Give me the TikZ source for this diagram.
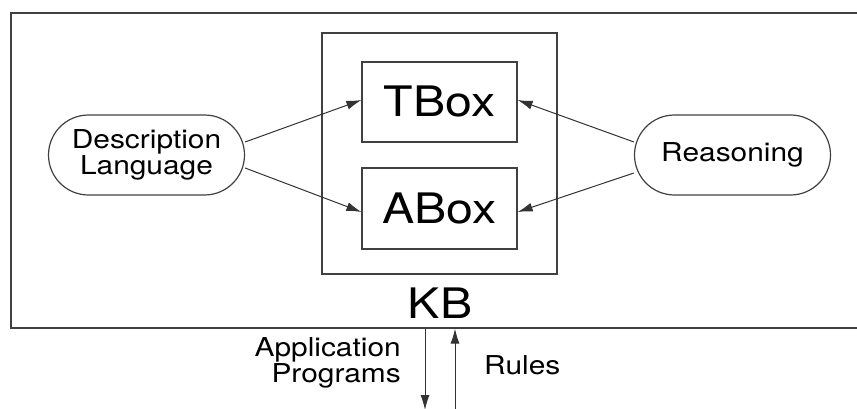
\documentclass[tikz,border=0pt]{standalone}
\usepackage{fontspec}
\setmainfont[FakeStretch=1.15]{TeX Gyre Heros}
\usetikzlibrary{arrows.meta}

\begin{document}
\begin{tikzpicture}[x=1pt,y=1pt]
\tikzstyle{every node}+=[inner sep=0pt]
\tikzstyle{box}=[draw=black!75, line width=1.2pt]
\tikzstyle{big}=[font=\fontsize{42}{44}\selectfont]
\tikzstyle{small}=[font=\fontsize{26}{26}\selectfont]
\tikzstyle{pill}=[box, small, rounded corners=40pt, minimum width=196pt, minimum height=80pt, align=center]
\tikzstyle{arr}=[draw=black!80, line width=1pt, -{Latex[length=15pt,width=9pt]}]
\useasboundingbox (0,0) rectangle (857,-409);
\node [box, minimum width=870pt, minimum height=315pt] (env) at (446,-170.5) {};
\node [box, minimum width=235pt, minimum height=241pt] (kb) at (439.5,-153.5) {};
\node [box, big, minimum width=155pt, minimum height=80pt] (tbox) at (439.5,-102) {TBox};
\node [box, big, minimum width=155pt, minimum height=81pt] (abox) at (439.5,-208.5) {ABox};
\node [big] (kblabel) at (440,-303) {KB};
\node [pill] (dl) at (146.5,-155) {Description\\Language};
\node [pill] (reason) at (732.5,-155) {Reasoning};
\draw [arr] ([yshift=13pt]dl.east) -- ([yshift=2pt]tbox.west);
\draw [arr] ([yshift=-13pt]dl.east) -- ([yshift=-3.5pt]abox.west);
\draw [arr] ([yshift=13pt]reason.west) -- ([yshift=2pt]tbox.east);
\draw [arr] ([yshift=-18pt]reason.west) -- ([yshift=-3.5pt]abox.east);
\coordinate (apps) at (425,-410);
\coordinate (rules) at (455,-409);
\draw [arr] (env.south -| apps) -- (apps);
\draw [arr] (rules) -- (env.south -| rules);
\node [small, align=right, anchor=east] (apptext) at (401,-363) {Application\\Programs};
\node [small, anchor=west] (rulestext) at (484,-365) {Rules};
\end{tikzpicture}
\end{document}
